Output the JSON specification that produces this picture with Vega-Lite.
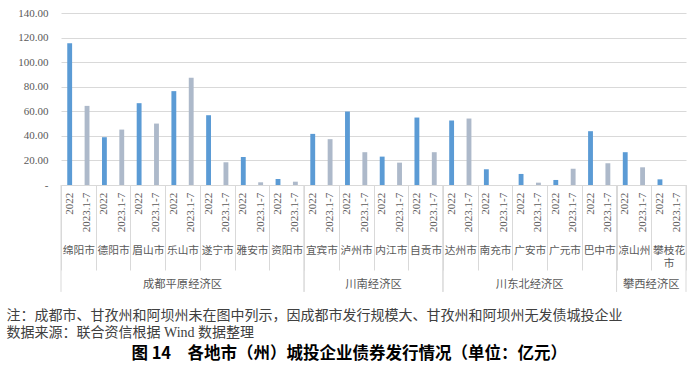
{
  "$schema": "https://vega.github.io/schema/vega-lite/v6.json",
  "width": 625,
  "height": 172,
  "padding": {"left": 6, "top": 7, "right": 5, "bottom": 4},
  "background": "white",
  "view": {"stroke": null},
  "datasets": {
    "bonds": [
      {"region": "成都平原经济区", "city": "绵阳市", "period": "2022", "value": 115.3},
      {"region": "成都平原经济区", "city": "绵阳市", "period": "2023.1-7", "value": 64.4},
      {"region": "成都平原经济区", "city": "德阳市", "period": "2022", "value": 38.9},
      {"region": "成都平原经济区", "city": "德阳市", "period": "2023.1-7", "value": 45.1},
      {"region": "成都平原经济区", "city": "眉山市", "period": "2022", "value": 66.6},
      {"region": "成都平原经济区", "city": "眉山市", "period": "2023.1-7", "value": 50.0},
      {"region": "成都平原经济区", "city": "乐山市", "period": "2022", "value": 76.4},
      {"region": "成都平原经济区", "city": "乐山市", "period": "2023.1-7", "value": 87.3},
      {"region": "成都平原经济区", "city": "遂宁市", "period": "2022", "value": 56.8},
      {"region": "成都平原经济区", "city": "遂宁市", "period": "2023.1-7", "value": 18.5},
      {"region": "成都平原经济区", "city": "雅安市", "period": "2022", "value": 22.8},
      {"region": "成都平原经济区", "city": "雅安市", "period": "2023.1-7", "value": 2.2},
      {"region": "成都平原经济区", "city": "资阳市", "period": "2022", "value": 4.9},
      {"region": "成都平原经济区", "city": "资阳市", "period": "2023.1-7", "value": 2.7},
      {"region": "川南经济区", "city": "宜宾市", "period": "2022", "value": 41.6},
      {"region": "川南经济区", "city": "宜宾市", "period": "2023.1-7", "value": 37.3},
      {"region": "川南经济区", "city": "泸州市", "period": "2022", "value": 59.8},
      {"region": "川南经济区", "city": "泸州市", "period": "2023.1-7", "value": 26.7},
      {"region": "川南经济区", "city": "内江市", "period": "2022", "value": 23.1},
      {"region": "川南经济区", "city": "内江市", "period": "2023.1-7", "value": 18.2},
      {"region": "川南经济区", "city": "自贡市", "period": "2022", "value": 54.9},
      {"region": "川南经济区", "city": "自贡市", "period": "2023.1-7", "value": 26.7},
      {"region": "川东北经济区", "city": "达州市", "period": "2022", "value": 52.5},
      {"region": "川东北经济区", "city": "达州市", "period": "2023.1-7", "value": 54.1},
      {"region": "川东北经济区", "city": "南充市", "period": "2022", "value": 12.8},
      {"region": "川东北经济区", "city": "南充市", "period": "2023.1-7", "value": 0},
      {"region": "川东北经济区", "city": "广安市", "period": "2022", "value": 9.0},
      {"region": "川东北经济区", "city": "广安市", "period": "2023.1-7", "value": 1.9},
      {"region": "川东北经济区", "city": "广元市", "period": "2022", "value": 4.1},
      {"region": "川东北经济区", "city": "广元市", "period": "2023.1-7", "value": 13.3},
      {"region": "川东北经济区", "city": "巴中市", "period": "2022", "value": 43.8},
      {"region": "川东北经济区", "city": "巴中市", "period": "2023.1-7", "value": 17.7},
      {"region": "攀西经济区", "city": "凉山州", "period": "2022", "value": 26.7},
      {"region": "攀西经济区", "city": "凉山州", "period": "2023.1-7", "value": 14.4},
      {"region": "攀西经济区", "city": "攀枝花市", "period": "2022", "value": 4.6},
      {"region": "攀西经济区", "city": "攀枝花市", "period": "2023.1-7", "value": 0}
    ],
    "regions": [
      {"region": "成都平原经济区", "first": "绵阳市", "last": "资阳市", "label_city": "乐山市", "label_at": "center"},
      {"region": "川南经济区", "first": "宜宾市", "last": "自贡市", "label_city": "内江市", "label_at": "edge"},
      {"region": "川东北经济区", "first": "达州市", "last": "巴中市", "label_city": "广安市", "label_at": "center"},
      {"region": "攀西经济区", "first": "凉山州", "last": "攀枝花市", "label_city": "攀枝花市", "label_at": "edge"}
    ]
  },
  "data": {"name": "bonds"},
  "layer": [
    {
      "mark": {"type": "bar"},
      "encoding": {
        "x": {
          "field": "city", "type": "nominal", "sort": null,
          "scale": {"domain": ["绵阳市","德阳市","眉山市","乐山市","遂宁市","雅安市","资阳市","宜宾市","泸州市","内江市","自贡市","达州市","南充市","广安市","广元市","巴中市","凉山州","攀枝花市"], "paddingInner": 0, "paddingOuter": 0},
          "axis": {
            "title": ["注：成都市、甘孜州和阿坝州未在图中列示，因成都市发行规模大、甘孜州和阿坝州无发债城投企业", "数据来源：联合资信根据 Wind 数据整理"],
            "titleX": -55, "titleY": 123, "titleAlign": "left", "titleAnchor": "start", "titleBaseline": "top", "titleAngle": 0,
            "titleFont": "Liberation Serif, Noto Sans CJK SC", "titleFontSize": 14, "titleFontWeight": "normal", "titleColor": "#404040", "titleLineHeight": 17.5,
            "labelFont": "Noto Sans CJK SC", "labelFontSize": 10.7, "labelColor": "#595959", "labelAngle": 0,
            "labelPadding": -24.3, "labelBaseline": "top", "labelLineHeight": 13, "labelOverlap": false, "labelFlush": false,
            "labelExpr": "datum.value == '攀枝花市' ? ['攀枝花', '市'] : datum.value",
            "tickBand": "extent", "tickSize": 85, "tickColor": "#d9d9d9", "domainColor": "#d9d9d9", "grid": false
          }
        },
        "xOffset": {"field": "period", "type": "nominal", "scale": {"domain": ["2022", "2023.1-7"], "paddingInner": 0.72, "paddingOuter": 0.36}},
        "y": {
          "field": "value", "type": "quantitative",
          "scale": {"domain": [0, 140], "nice": false},
          "axis": {
            "title": null, "values": [0, 20, 40, 60, 80, 100, 120, 140], "tickCount": 10, "labelOverlap": false,
            "labelExpr": "datum.value == 0 ? '-  ' : format(datum.value, '.2f')",
            "labelFont": "Liberation Serif", "labelFontSize": 11, "labelColor": "#595959", "labelPadding": 13,
            "ticks": false, "domain": false, "gridColor": "#d9d9d9", "gridWidth": 1
          }
        },
        "color": {"field": "period", "type": "nominal", "scale": {"domain": ["2022", "2023.1-7"], "range": ["#5B9BD5", "#ADB9CA"]}, "legend": null}
      }
    },
    {
      "mark": {"type": "text", "angle": 270, "align": "right", "baseline": "middle", "font": "Liberation Serif", "fontSize": 11, "color": "#595959"},
      "encoding": {
        "x": {"field": "city", "type": "nominal", "sort": null, "scale": {"domain": ["绵阳市","德阳市","眉山市","乐山市","遂宁市","雅安市","资阳市","宜宾市","泸州市","内江市","自贡市","达州市","南充市","广安市","广元市","巴中市","凉山州","攀枝花市"]}},
        "xOffset": {"field": "period", "type": "nominal"},
        "y": {"datum": -6.3, "type": "quantitative", "scale": {"domain": [0, 140], "nice": false}},
        "text": {"field": "period", "type": "nominal"}
      }
    },
    {
      "data": {"name": "regions"},
      "mark": {"type": "rule", "color": "#d9d9d9", "strokeWidth": 1},
      "encoding": {
        "x": {"field": "first", "type": "nominal", "bandPosition": 0, "sort": null, "scale": {"domain": ["绵阳市","德阳市","眉山市","乐山市","遂宁市","雅安市","资阳市","宜宾市","泸州市","内江市","自贡市","达州市","南充市","广安市","广元市","巴中市","凉山州","攀枝花市"]}},
        "y": {"datum": 0, "type": "quantitative", "scale": {"domain": [0, 140], "nice": false}},
        "y2": {"datum": -87}
      }
    },
    {
      "data": {"name": "regions"},
      "mark": {"type": "rule", "color": "#d9d9d9", "strokeWidth": 1},
      "encoding": {
        "x": {"field": "last", "type": "nominal", "bandPosition": 1, "sort": null, "scale": {"domain": ["绵阳市","德阳市","眉山市","乐山市","遂宁市","雅安市","资阳市","宜宾市","泸州市","内江市","自贡市","达州市","南充市","广安市","广元市","巴中市","凉山州","攀枝花市"]}},
        "y": {"datum": 0, "type": "quantitative", "scale": {"domain": [0, 140], "nice": false}},
        "y2": {"datum": -87}
      }
    },
    {
      "data": {"name": "regions"},
      "transform": [{"filter": "datum.label_at == 'center'"}],
      "mark": {"type": "text", "align": "center", "baseline": "middle", "font": "Noto Sans CJK SC", "fontSize": 11.3, "color": "#595959"},
      "encoding": {
        "x": {"field": "label_city", "type": "nominal", "bandPosition": 0.5, "sort": null, "scale": {"domain": ["绵阳市","德阳市","眉山市","乐山市","遂宁市","雅安市","资阳市","宜宾市","泸州市","内江市","自贡市","达州市","南充市","广安市","广元市","巴中市","凉山州","攀枝花市"]}},
        "y": {"datum": -81.5, "type": "quantitative", "scale": {"domain": [0, 140], "nice": false}},
        "text": {"field": "region", "type": "nominal"}
      }
    },
    {
      "data": {"name": "regions"},
      "transform": [{"filter": "datum.label_at == 'edge'"}],
      "mark": {"type": "text", "align": "center", "baseline": "middle", "font": "Noto Sans CJK SC", "fontSize": 11.3, "color": "#595959"},
      "encoding": {
        "x": {"field": "label_city", "type": "nominal", "bandPosition": 0, "sort": null, "scale": {"domain": ["绵阳市","德阳市","眉山市","乐山市","遂宁市","雅安市","资阳市","宜宾市","泸州市","内江市","自贡市","达州市","南充市","广安市","广元市","巴中市","凉山州","攀枝花市"]}},
        "y": {"datum": -81.5, "type": "quantitative", "scale": {"domain": [0, 140], "nice": false}},
        "text": {"field": "region", "type": "nominal"}
      }
    }
  ],
  "title": {
    "text": "图 14　各地市（州）城投企业债券发行情况（单位：亿元）",
    "orient": "bottom", "anchor": "middle", "frame": "bounds", "dx": 3,
    "font": "Noto Sans CJK SC", "fontSize": 16.5, "fontWeight": "bold", "color": "#000000", "offset": 6
  }
}
